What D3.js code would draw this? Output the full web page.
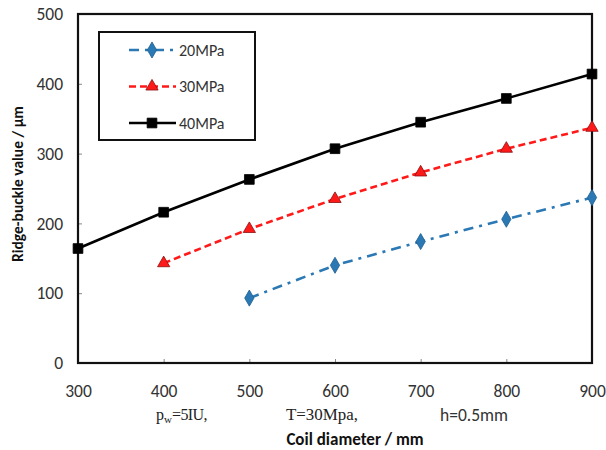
<!DOCTYPE html>
<html>
<head>
<meta charset="utf-8">
<script src="https://cdn.jsdelivr.net/npm/d3@7"></script>
<style>
  html, body { margin: 0; padding: 0; background: #fff; }
  svg { display: block; font-family: Carlito, Lato, "Liberation Sans", sans-serif; }
</style>
</head>
<body>
<svg id="chart" width="606" height="450"></svg>
<script>
// Coil diameter (mm) on the x axis
const diameters = [300, 400, 500, 600, 700, 800, 900];
// Ridge-buckle value (µm) for each tension level
const series20 = [null, null, 93, 140, 174, 206, 237];
const series30 = [null, 143, 192, 235, 273, 307, 337];
const series40 = [164, 216, 263, 307, 345, 379, 414];
const seriesNames = ["20MPa", "30MPa", "40MPa"];
const xTicks = [300, 400, 500, 600, 700, 800, 900];
const yTicks = [0, 100, 200, 300, 400, 500];

const svg = d3.select("#chart");
const W = 606, H = 450;
const m = { left: 78, right: 14, top: 14, bottom: 87 };
const pw = W - m.left - m.right, ph = H - m.top - m.bottom;

const x = d3.scaleLinear().domain([300, 900]).range([m.left, m.left + pw]);
const y = d3.scaleLinear().domain([0, 500]).range([m.top + ph, m.top]);

const styles = [
  { name: seriesNames[0], values: series20, color: "#2a78b4", stroke: "#1f5f8f", dash: "10,6,3,6", shape: d3.symbolDiamond, size: 75 },
  { name: seriesNames[1], values: series30, color: "#ff1a1a", stroke: "#8a1010", dash: "7,4", shape: d3.symbolTriangle, size: 65 },
  { name: seriesNames[2], values: series40, color: "#000000", stroke: "#000000", dash: null, shape: d3.symbolSquare, size: 95 }
];

const tickFont = "Carlito, Lato, sans-serif";

// Bottom axis: inward ticks, labels below
const xAxis = d3.axisBottom(x).tickValues(xTicks).tickSize(-4).tickPadding(22).tickFormat(d3.format("d"));
const gx = svg.append("g").attr("transform", `translate(0,${m.top + ph})`).call(xAxis);
gx.select(".domain").remove();
gx.selectAll(".tick line").attr("stroke", "#888");
gx.selectAll(".tick text").attr("font-size", 17.5).attr("fill", "#333").attr("font-family", tickFont);

// Left axis: inward ticks
const yAxis = d3.axisLeft(y).tickValues(yTicks).tickSize(-4).tickPadding(15);
const gy = svg.append("g").attr("transform", `translate(${m.left},0)`).call(yAxis);
gy.select(".domain").remove();
gy.selectAll(".tick line").attr("stroke", "#888");
gy.selectAll(".tick text").attr("font-size", 17.5).attr("fill", "#333").attr("font-family", tickFont);

// Series lines
styles.forEach(s => {
  const pts = diameters.map((d, i) => [d, s.values[i]]).filter(p => p[1] != null);
  svg.append("path")
    .attr("d", d3.line().x(p => x(p[0])).y(p => y(p[1]))(pts))
    .attr("fill", "none")
    .attr("stroke", s.color)
    .attr("stroke-width", 2.6)
    .attr("stroke-dasharray", s.dash);
});

// Plot frame
svg.append("rect")
  .attr("x", m.left).attr("y", m.top).attr("width", pw).attr("height", ph)
  .attr("fill", "none").attr("stroke", "#111").attr("stroke-width", 2.2);

// Series markers
styles.forEach(s => {
  const pts = diameters.map((d, i) => [d, s.values[i]]).filter(p => p[1] != null);
  svg.selectAll(null).data(pts).enter().append("path")
    .attr("d", d3.symbol().type(s.shape).size(s.size))
    .attr("transform", p => `translate(${x(p[0])},${y(p[1])})`)
    .attr("fill", s.color)
    .attr("stroke", s.stroke)
    .attr("stroke-width", 0.8);
});

// Legend
const lg = svg.append("g");
lg.append("rect").attr("x", 99).attr("y", 32).attr("width", 156).attr("height", 108)
  .attr("fill", "#fff").attr("stroke", "#111").attr("stroke-width", 2);
styles.forEach((s, i) => {
  const ly = 50 + i * 36.5;
  lg.append("line").attr("x1", 129).attr("x2", 176).attr("y1", ly).attr("y2", ly)
    .attr("stroke", s.color).attr("stroke-width", 2.6).attr("stroke-dasharray", s.dash);
  lg.append("path").attr("d", d3.symbol().type(s.shape).size(s.size))
    .attr("transform", `translate(152,${ly})`)
    .attr("fill", s.color).attr("stroke", s.stroke).attr("stroke-width", 0.8);
  lg.append("text").attr("x", 179).attr("y", ly).attr("dy", "0.35em")
    .attr("font-size", 16).attr("fill", "#333").text(s.name);
});

// Test conditions below the axis
const serif = "'Liberation Serif', 'DejaVu Serif', serif";
const cond = svg.append("g").attr("fill", "#222");
const t1 = cond.append("text").attr("x", 156).attr("y", 420)
  .attr("font-family", serif).attr("font-size", 16);
t1.append("tspan").text("p");
t1.append("tspan").attr("font-size", 11).attr("dy", 3).text("w");
t1.append("tspan").attr("dy", -3).attr("letter-spacing", -0.6).text("=5IU,");
cond.append("text").attr("x", 286).attr("y", 420)
  .attr("font-family", serif).attr("font-size", 16)
  .attr("textLength", 72).attr("lengthAdjust", "spacingAndGlyphs").text("T=30Mpa,");
cond.append("text").attr("x", 440).attr("y", 421)
  .attr("font-size", 17.5).attr("fill", "#333").text("h=0.5mm");

// Axis titles
svg.append("text").attr("x", 355).attr("y", 445).attr("text-anchor", "middle")
  .attr("font-size", 17).attr("font-weight", "bold").attr("fill", "#111")
  .text("Coil diameter / mm");
svg.append("text").attr("transform", "translate(23,184) rotate(-90)").attr("text-anchor", "middle")
  .attr("font-size", 15.5).attr("font-weight", "bold").attr("fill", "#111")
  .text("Ridge-buckle value / μm");
</script>
</body>
</html>
